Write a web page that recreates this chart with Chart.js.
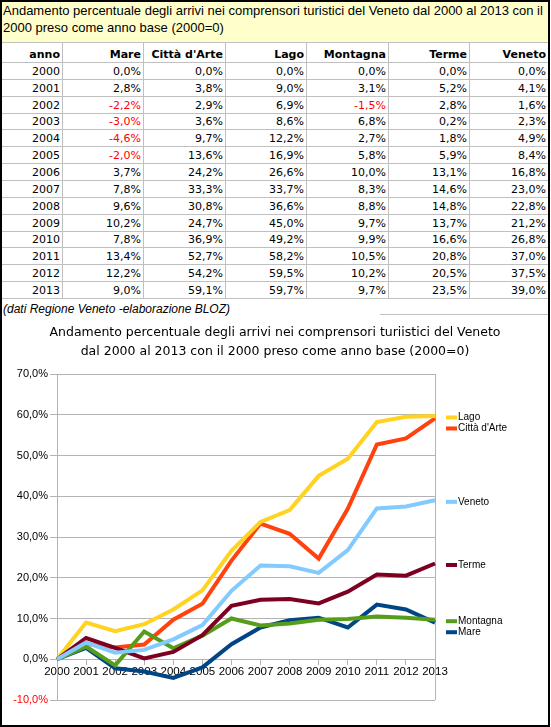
<!DOCTYPE html>
<html>
<head>
<meta charset="utf-8">
<script src="https://cdn.jsdelivr.net/npm/chart.js@4/dist/chart.umd.min.js"></script>
<style>
  body { margin: 0; background: #fff; }
  #foglio { position: relative; width: 551px; height: 727px; overflow: hidden; background: #fff; }
  #cornice { position: absolute; left: 0; top: 0; width: 546px; height: 723px; border: 2px solid #000; z-index: 5; pointer-events: none; }
  #titolo { position: absolute; left: 2px; top: 2px; width: 545px; height: 40px; padding-left: 1px; background: #ffffcc;
            font: 13px "Liberation Sans", Arial, sans-serif; line-height: 17px; color: #000; white-space: nowrap; }
  .linea { position: absolute; background: #c0c0c0; }
  .cella { position: absolute; font: 11px "DejaVu Sans", Verdana, sans-serif; line-height: 13px; text-align: right; color: #000; white-space: nowrap; }
  .testa { font-weight: bold; }
  #nota { position: absolute; left: 3px; top: 302px; font: italic 12px "Liberation Sans", Arial, sans-serif; line-height: 14px; white-space: nowrap; }
  #grafico { position: absolute; left: 2px; top: 315px; }
</style>
</head>
<body>
<div id="foglio">
  <div id="cornice"></div>
  <div id="titolo">Andamento percentuale degli arrivi nei comprensori turistici del Veneto dal 2000 al 2013 con il<br>2000 preso come anno base (2000=0)</div>
  <div id="tabella"></div>
  <div id="nota">(dati Regione Veneto -elaborazione BLOZ)</div>
  <div class="linea" style="left:380px; top:314px; width:168px; height:1px;"></div>
  <canvas id="grafico" width="546" height="409"></canvas>
</div>
<script>
const anni = ["2000", "2001", "2002", "2003", "2004", "2005", "2006", "2007", "2008", "2009", "2010", "2011", "2012", "2013"];
const mare = [0.0, 2.8, -2.2, -3.0, -4.6, -2.0, 3.7, 7.8, 9.6, 10.2, 7.8, 13.4, 12.2, 9.0];
const cittaArte = [0.0, 3.8, 2.9, 3.6, 9.7, 13.6, 24.2, 33.3, 30.8, 24.7, 36.9, 52.7, 54.2, 59.1];
const lago = [0.0, 9.0, 6.9, 8.6, 12.2, 16.9, 26.6, 33.7, 36.6, 45.0, 49.2, 58.2, 59.5, 59.7];
const montagna = [0.0, 3.1, -1.5, 6.8, 2.7, 5.8, 10.0, 8.3, 8.8, 9.7, 9.9, 10.5, 10.2, 9.7];
const terme = [0.0, 5.2, 2.8, 0.2, 1.8, 5.9, 13.1, 14.6, 14.8, 13.7, 16.6, 20.8, 20.5, 23.5];
const veneto = [0.0, 4.1, 1.6, 2.3, 4.9, 8.4, 16.8, 23.0, 22.8, 21.2, 26.8, 37.0, 37.5, 39.0];

const nomiSerie = ["Mare", "Città d'Arte", "Lago", "Montagna", "Terme", "Veneto"];
const valoriSerie = [mare, cittaArte, lago, montagna, terme, veneto];
const coloriSerie = ["#004586", "#ff420e", "#ffd320", "#579d1c", "#7e0021", "#83caff"];

const titoloGrafico = [
  "Andamento percentuale degli arrivi nei comprensori turiistici del Veneto",
  "dal 2000 al 2013 con il 2000 preso come anno base (2000=0)"
];

const percento = (v) => v.toFixed(1).replace(".", ",") + "%";

// tabella stile foglio di calcolo
const bordi = [2, 62, 143, 225, 306, 388, 469, 548];
const altezzaRiga = 16.85;
const tab = document.getElementById("tabella");

function linea(x, y, w, h) {
  const d = document.createElement("div");
  d.className = "linea";
  d.style.cssText = `left:${x}px;top:${y}px;width:${w}px;height:${h}px;`;
  tab.appendChild(d);
}
function cella(testo, col, fondo, classe, colore) {
  const d = document.createElement("div");
  d.className = "cella " + (classe || "");
  d.textContent = testo;
  d.style.left = bordi[col] + "px";
  d.style.width = (bordi[col + 1] - bordi[col] - 2) + "px";
  d.style.top = (Math.round(fondo) - 14) + "px";
  if (colore) d.style.color = colore;
  tab.appendChild(d);
}

const intestazioni = ["anno"].concat(nomiSerie);
intestazioni.forEach((t, i) => cella(t, i, 62, "testa"));
linea(2, 42, 546, 1);
linea(2, 62, 546, 1);
anni.forEach((anno, r) => {
  const fondo = 62 + (r + 1) * altezzaRiga;
  cella(anno, 0, fondo);
  valoriSerie.forEach((vals, c) => {
    cella(percento(vals[r]), c + 1, fondo, "", vals[r] < 0 ? "#ff0000" : null);
  });
  linea(2, Math.round(fondo), 546, 1);
});
for (let i = 1; i < bordi.length - 1; i++) {
  linea(bordi[i], 42, 1, Math.round(62 + anni.length * altezzaRiga) - 42);
}

// cornice area del grafico + etichette a destra
const etichetteFinali = {
  id: "etichetteFinali",
  beforeDatasetsDraw(chart) {
    const { ctx, chartArea } = chart;
    const x = Math.round(chartArea.right) + 0.5;
    ctx.save();
    ctx.strokeStyle = "#b3b3b3";
    ctx.lineWidth = 1;
    ctx.beginPath();
    ctx.moveTo(x, chartArea.top);
    ctx.lineTo(x, chartArea.bottom);
    ctx.stroke();
    ctx.restore();
  },
  afterDraw(chart) {
    const { ctx, chartArea, scales } = chart;
    const voci = chart.data.datasets.map((ds) => ({
      testo: ds.label,
      colore: ds.borderColor,
      y: scales.y.getPixelForValue(ds.data[ds.data.length - 1]) + 1.5,
    }));
    voci.sort((a, b) => a.y - b.y);
    for (let i = 1; i < voci.length; i++) {
      if (voci[i].y < voci[i - 1].y + 11) voci[i].y = voci[i - 1].y + 11;
    }
    ctx.save();
    ctx.font = '10px "Liberation Sans", Arial, sans-serif';
    ctx.textBaseline = "middle";
    ctx.textAlign = "left";
    voci.forEach((v) => {
      ctx.strokeStyle = v.colore;
      ctx.lineWidth = 4;
      ctx.beginPath();
      ctx.moveTo(chartArea.right + 11, v.y);
      ctx.lineTo(chartArea.right + 22, v.y);
      ctx.stroke();
      ctx.fillStyle = "#000";
      ctx.fillText(v.testo, chartArea.right + 23, v.y);
    });
    ctx.restore();
  },
};

const fontAssi = { family: '"Liberation Sans", Arial, sans-serif', size: 11 };

new Chart(document.getElementById("grafico").getContext("2d"), {
  type: "line",
  data: {
    labels: anni,
    datasets: nomiSerie.map((nome, i) => ({
      label: nome,
      data: valoriSerie[i],
      borderColor: coloriSerie[i],
      backgroundColor: coloriSerie[i],
      borderWidth: 4,
      pointRadius: 0,
      tension: 0,
      fill: false,
      order: nomiSerie.length - i,
    })),
  },
  options: {
    responsive: false,
    animation: false,
    layout: { padding: { left: 0, right: 0, bottom: 24 } },
    plugins: {
      legend: { display: false },
      tooltip: { enabled: false },
      title: {
        display: true,
        text: titoloGrafico,
        color: "#000",
        font: { family: '"DejaVu Sans", Verdana, sans-serif', size: 12.5, weight: "normal", lineHeight: 1.52 },
        padding: { top: 8.5, bottom: 12.5 },
      },
    },
    scales: {
      x: {
        position: { y: 0 },
        ticks: { color: "#000", font: { family: fontAssi.family, size: 11.5 }, padding: 1, autoSkip: false, minRotation: 0, maxRotation: 0 },
        grid: { drawOnChartArea: false, tickLength: 5, color: "#b3b3b3" },
        border: { color: "#b3b3b3" },
      },
      y: {
        min: -10,
        max: 70,
        ticks: {
          stepSize: 10,
          font: fontAssi,
          padding: 2,
          color: (c) => (c.tick && c.tick.value < 0 ? "#ff0000" : "#000"),
          callback: (v) => percento(v),
        },
        grid: { color: "#b3b3b3", tickLength: 7 },
        border: { color: "#b3b3b3" },
        afterFit: (s) => { s.width = 55; },
      },
      // spazio vuoto a destra per le etichette delle serie
      spazio: {
        type: "linear",
        position: "right",
        ticks: { display: false },
        grid: { display: false },
        border: { display: false },
        afterFit: (s) => { s.width = 113; },
      },
    },
  },
  plugins: [etichetteFinali],
});
</script>
</body>
</html>
